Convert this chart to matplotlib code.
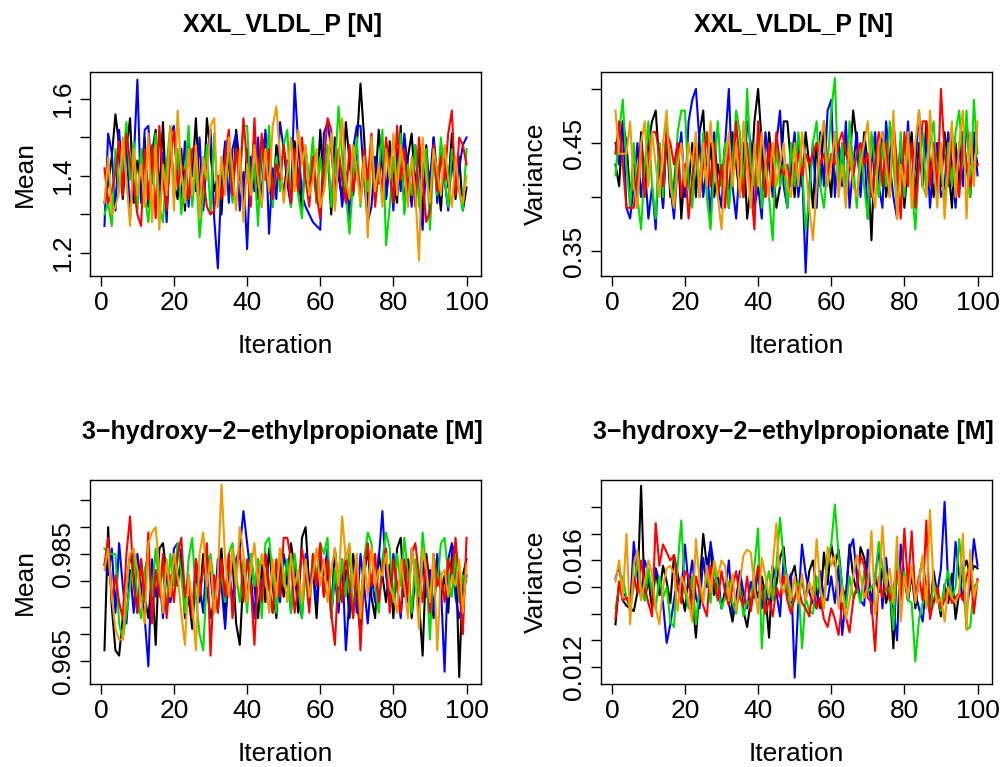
import matplotlib
matplotlib.use("Agg")
import matplotlib.pyplot as plt
import numpy as np

# ---------------- data ----------------
titles = ["XXL_VLDL_P [N]", "XXL_VLDL_P [N]",
          "3\u2212hydroxy\u22122\u2212ethylpropionate [M]",
          "3\u2212hydroxy\u22122\u2212ethylpropionate [M]"]
ylabels = ["Mean", "Variance", "Mean", "Variance"]
xticks = [0, 20, 40, 60, 80, 100]

p1_black = [1.33,1.38,1.45,1.56,1.48,1.34,1.47,1.55,1.33,1.44,
1.38,1.50,1.32,1.46,1.52,1.35,1.54,1.31,1.49,1.38,
1.34,1.47,1.31,1.49,1.40,1.55,1.36,1.32,1.55,1.46,
1.36,1.40,1.30,1.48,1.43,1.34,1.52,1.43,1.32,1.47,
1.40,1.50,1.34,1.45,1.51,1.38,1.32,1.48,1.43,1.35,
1.44,1.33,1.49,1.40,1.31,1.47,1.37,1.45,1.33,1.52,
1.37,1.47,1.30,1.50,1.40,1.34,1.54,1.44,1.35,1.48,
1.64,1.50,1.32,1.46,1.37,1.52,1.42,1.34,1.49,1.39,
1.33,1.53,1.31,1.45,1.51,1.37,1.47,1.29,1.48,1.34,
1.50,1.40,1.31,1.47,1.37,1.51,1.34,1.45,1.31,1.37]
p1_blue = [1.27,1.51,1.46,1.31,1.52,1.38,1.49,1.29,1.44,1.65,
1.33,1.52,1.53,1.38,1.49,1.31,1.46,1.28,1.51,1.53,
1.40,1.34,1.49,1.32,1.43,1.36,1.50,1.31,1.45,1.52,
1.29,1.16,1.39,1.49,1.33,1.47,1.51,1.31,1.41,1.21,
1.45,1.36,1.50,1.32,1.52,1.25,1.42,1.34,1.54,1.47,
1.38,1.32,1.64,1.48,1.35,1.32,1.30,1.28,1.27,1.26,
1.51,1.54,1.47,1.36,1.43,1.32,1.41,1.29,1.47,1.53,
1.53,1.39,1.28,1.32,1.45,1.38,1.49,1.34,1.43,1.31,
1.47,1.36,1.51,1.41,1.32,1.48,1.35,1.26,1.44,1.39,
1.50,1.33,1.47,1.39,1.31,1.45,1.35,1.42,1.48,1.50]
p1_green = [1.30,1.33,1.27,1.47,1.36,1.43,1.54,1.39,1.49,1.31,
1.47,1.35,1.28,1.40,1.51,1.32,1.28,1.43,1.53,1.35,
1.47,1.30,1.40,1.53,1.32,1.43,1.24,1.35,1.48,1.30,
1.51,1.32,1.43,1.37,1.48,1.33,1.47,1.39,1.53,1.53,
1.35,1.43,1.27,1.50,1.39,1.53,1.32,1.45,1.36,1.48,
1.52,1.32,1.43,1.35,1.29,1.47,1.39,1.50,1.33,1.45,
1.36,1.48,1.32,1.41,1.58,1.45,1.35,1.25,1.39,1.50,
1.32,1.43,1.36,1.47,1.33,1.41,1.52,1.22,1.32,1.45,
1.39,1.51,1.30,1.43,1.35,1.48,1.32,1.41,1.47,1.26,
1.45,1.35,1.50,1.39,1.32,1.47,1.41,1.36,1.31,1.47]
p1_red = [1.42,1.33,1.36,1.41,1.49,1.35,1.51,1.44,1.37,1.30,
1.27,1.47,1.34,1.48,1.29,1.53,1.39,1.31,1.45,1.52,
1.37,1.43,1.41,1.34,1.47,1.48,1.35,1.40,1.32,1.30,
1.31,1.40,1.34,1.45,1.52,1.35,1.47,1.39,1.55,1.43,
1.32,1.55,1.37,1.51,1.39,1.47,1.34,1.43,1.39,1.48,
1.41,1.33,1.47,1.36,1.50,1.39,1.32,1.45,1.35,1.29,
1.43,1.55,1.52,1.32,1.47,1.39,1.33,1.48,1.36,1.43,
1.35,1.47,1.39,1.51,1.32,1.43,1.36,1.50,1.41,1.33,
1.53,1.39,1.47,1.35,1.43,1.32,1.50,1.39,1.28,1.31,
1.48,1.36,1.45,1.39,1.51,1.57,1.35,1.50,1.48,1.43]
p1_orange = [1.33,1.45,1.30,1.32,1.36,1.50,1.39,1.27,1.47,1.35,
1.43,1.32,1.51,1.28,1.48,1.26,1.43,1.35,1.53,1.31,
1.57,1.41,1.33,1.47,1.35,1.48,1.29,1.45,1.39,1.53,
1.55,1.32,1.45,1.35,1.50,1.41,1.31,1.47,1.28,1.43,
1.35,1.48,1.39,1.32,1.47,1.36,1.53,1.58,1.45,1.33,
1.41,1.50,1.36,1.52,1.43,1.48,1.35,1.39,1.47,1.32,
1.36,1.43,1.51,1.31,1.45,1.55,1.39,1.34,1.48,1.41,
1.33,1.45,1.24,1.50,1.36,1.43,1.32,1.47,1.39,1.51,
1.35,1.48,1.41,1.32,1.45,1.36,1.18,1.50,1.39,1.33,
1.47,1.41,1.35,1.48,1.39,1.32,1.45,1.36,1.33,1.40]

p2_black = [0.43,0.41,0.47,0.45,0.40,0.43,0.39,0.46,0.41,0.45,
0.47,0.48,0.43,0.39,0.46,0.40,0.41,0.45,0.38,0.43,
0.41,0.45,0.40,0.46,0.48,0.41,0.45,0.40,0.43,0.41,
0.45,0.39,0.46,0.43,0.40,0.45,0.38,0.41,0.47,0.50,
0.45,0.40,0.46,0.43,0.39,0.41,0.47,0.47,0.43,0.40,
0.45,0.41,0.46,0.43,0.39,0.45,0.41,0.47,0.43,0.40,
0.46,0.41,0.45,0.40,0.43,0.48,0.45,0.41,0.46,0.43,
0.36,0.45,0.41,0.46,0.40,0.43,0.47,0.41,0.45,0.39,
0.43,0.46,0.40,0.45,0.41,0.47,0.43,0.40,0.45,0.41,
0.46,0.43,0.39,0.45,0.41,0.46,0.43,0.40,0.45,0.43]
p2_blue = [0.45,0.43,0.47,0.39,0.38,0.41,0.45,0.40,0.43,0.38,
0.41,0.37,0.45,0.39,0.47,0.41,0.38,0.43,0.46,0.40,
0.47,0.49,0.50,0.45,0.40,0.43,0.38,0.46,0.41,0.39,
0.45,0.50,0.41,0.38,0.43,0.40,0.47,0.45,0.39,0.41,
0.38,0.46,0.43,0.40,0.45,0.48,0.41,0.39,0.43,0.46,
0.40,0.43,0.33,0.41,0.45,0.39,0.46,0.41,0.48,0.49,
0.40,0.45,0.41,0.47,0.39,0.43,0.46,0.40,0.45,0.38,
0.43,0.46,0.41,0.39,0.47,0.43,0.40,0.38,0.45,0.41,
0.47,0.40,0.43,0.48,0.41,0.46,0.39,0.43,0.45,0.40,
0.41,0.46,0.43,0.39,0.45,0.41,0.47,0.43,0.46,0.42]
p2_green = [0.42,0.46,0.49,0.43,0.39,0.45,0.40,0.37,0.43,0.47,
0.41,0.38,0.45,0.40,0.47,0.43,0.39,0.46,0.48,0.48,
0.41,0.39,0.45,0.41,0.46,0.40,0.37,0.43,0.47,0.41,
0.45,0.39,0.43,0.48,0.46,0.40,0.50,0.43,0.41,0.46,
0.39,0.43,0.40,0.36,0.45,0.41,0.43,0.39,0.45,0.41,
0.46,0.43,0.37,0.40,0.45,0.47,0.41,0.39,0.43,0.48,
0.51,0.41,0.45,0.40,0.47,0.43,0.39,0.45,0.41,0.38,
0.46,0.43,0.40,0.45,0.41,0.47,0.43,0.39,0.46,0.40,
0.45,0.41,0.37,0.43,0.46,0.40,0.45,0.47,0.41,0.43,
0.39,0.45,0.41,0.46,0.48,0.43,0.48,0.40,0.49,0.44]
p2_red = [0.44,0.47,0.43,0.39,0.39,0.39,0.42,0.45,0.40,0.43,
0.46,0.46,0.44,0.41,0.46,0.45,0.43,0.45,0.40,0.43,
0.38,0.42,0.45,0.40,0.43,0.46,0.41,0.45,0.40,0.43,
0.39,0.45,0.41,0.47,0.43,0.40,0.45,0.41,0.37,0.47,
0.43,0.40,0.45,0.41,0.46,0.43,0.42,0.43,0.41,0.43,
0.44,0.42,0.44,0.43,0.44,0.45,0.43,0.44,0.42,0.44,
0.43,0.45,0.46,0.44,0.43,0.42,0.44,0.45,0.43,0.44,
0.40,0.43,0.46,0.41,0.45,0.40,0.47,0.43,0.38,0.46,
0.41,0.45,0.39,0.43,0.47,0.47,0.41,0.45,0.40,0.50,
0.44,0.41,0.46,0.43,0.40,0.45,0.43,0.41,0.43,0.43]
p2_orange = [0.48,0.44,0.44,0.44,0.47,0.41,0.39,0.45,0.47,0.41,
0.46,0.43,0.40,0.45,0.48,0.41,0.39,0.43,0.45,0.41,
0.45,0.43,0.46,0.40,0.45,0.41,0.47,0.43,0.40,0.37,
0.43,0.46,0.41,0.45,0.40,0.47,0.43,0.39,0.45,0.41,
0.46,0.43,0.40,0.45,0.41,0.43,0.45,0.41,0.40,0.45,
0.41,0.46,0.43,0.39,0.36,0.41,0.45,0.47,0.41,0.43,
0.46,0.40,0.43,0.39,0.45,0.41,0.40,0.43,0.45,0.47,
0.41,0.39,0.45,0.46,0.43,0.40,0.48,0.38,0.43,0.41,
0.46,0.39,0.45,0.48,0.41,0.40,0.48,0.43,0.39,0.45,
0.38,0.43,0.47,0.40,0.45,0.48,0.38,0.46,0.41,0.47]

p3_black = [.967,.990,.975,.967,.966,.973,.979,.985,.981,.974,
.984,.977,.973,.981,.968,.986,.987,.981,.976,.984,
.979,.985,.973,.977,.971,.982,.976,.985,.979,.973,
.976,.981,.986,.974,.979,.984,.972,.968,.981,.976,
.985,.979,.973,.983,.976,.986,.979,.973,.984,.977,
.981,.987,.982,.974,.988,.990,.979,.982,.973,.985,
.977,.982,.974,.986,.979,.976,.982,.973,.985,.977,
.970,.981,.986,.977,.973,.985,.981,.976,.983,.973,
.986,.988,.977,.984,.973,.981,.976,.966,.985,.979,
.973,.984,.977,.981,.974,.985,.987,.962,.981,.984]
p3_blue = [.983,.981,.986,.974,.987,.979,.972,.982,.974,.985,
.979,.973,.964,.984,.977,.981,.973,.982,.976,.986,
.987,.985,.977,.981,.973,.984,.979,.974,.985,.981,
.974,.984,.979,.971,.982,.976,.984,.986,.993,.987,
.981,.973,.984,.977,.985,.979,.974,.982,.976,.985,
.981,.974,.984,.977,.973,.985,.979,.982,.976,.985,
.981,.986,.973,.981,.974,.984,.967,.977,.982,.974,
.985,.979,.972,.981,.976,.984,.993,.981,.976,.985,
.979,.973,.982,.976,.986,.981,.973,.984,.977,.982,
.974,.985,.979,.963,.984,.987,.977,.973,.976,.981]
p3_green = [.986,.985,.985,.985,.972,.969,.974,.979,.985,.977,
.973,.982,.985,.977,.986,.979,.982,.974,.985,.979,
.987,.981,.974,.984,.988,.977,.970,.967,.981,.985,
.979,.974,.982,.976,.985,.987,.981,.976,.984,.974,
.985,.979,.984,.973,.987,.988,.981,.974,.986,.979,
.984,.974,.985,.979,.973,.982,.976,.985,.981,.987,
.985,.988,.973,.982,.976,.984,.977,.986,.973,.981,
.976,.984,.989,.987,.979,.974,.984,.989,.986,.976,
.985,.979,.988,.981,.974,.984,.977,.989,.982,.969,
.985,.979,.987,.988,.981,.977,.985,.976,.981,.980]
p3_red = [.983,.988,.976,.981,.976,.973,.985,.992,.979,.974,
.984,.976,.989,.972,.982,.977,.985,.973,.981,.976,
.985,.988,.977,.981,.973,.984,.977,.982,.987,.966,
.981,.974,.984,.977,.985,.973,.981,.986,.976,.984,
.979,.968,.982,.976,.985,.979,.974,.984,.977,.988,
.988,.984,.974,.979,.986,.981,.974,.985,.979,.987,
.977,.984,.974,.968,.982,.976,.985,.979,.973,.984,
.967,.982,.987,.979,.985,.976,.982,.986,.974,.984,
.979,.974,.984,.977,.985,.987,.981,.976,.984,.974,
.985,.979,.981,.976,.984,.981,.988,.979,.970,.988]
p3_orange = [.982,.986,.977,.971,.969,.969,.979,.985,.986,.982,
.976,.972,.987,.989,.990,.982,.974,.984,.977,.985,
.981,.974,.968,.981,.976,.967,.985,.989,.979,.984,
.974,.981,.998,.984,.977,.986,.979,.990,.985,.976,
.982,.987,.979,.985,.981,.974,.984,.977,.986,.981,
.976,.985,.979,.982,.976,.984,.977,.981,.986,.979,
.984,.976,.982,.986,.979,.992,.984,.987,.979,.985,
.973,.984,.977,.986,.979,.982,.981,.985,.979,.977,
.974,.984,.979,.973,.986,.981,.971,.986,.982,.976,
.985,.967,.981,.982,.977,.981,.979,.984,.974,.983]

p4_black = [.0136,.0152,.0145,.0143,.0142,.0141,.0148,.0188,.0145,.0153,
.0142,.0157,.0147,.0158,.0152,.0144,.0162,.0155,.0148,.0141,
.0154,.0146,.0131,.0151,.0170,.0158,.0165,.0147,.0154,.0142,
.0149,.0144,.0137,.0146,.0153,.0141,.0135,.0145,.0151,.0146,
.0154,.0147,.0131,.0158,.0151,.0161,.0165,.0147,.0154,.0158,
.0147,.0153,.0145,.0156,.0160,.0148,.0142,.0163,.0151,.0166,
.0158,.0164,.0150,.0146,.0166,.0154,.0148,.0165,.0161,.0152,
.0145,.0154,.0148,.0157,.0144,.0150,.0127,.0160,.0146,.0153,
.0145,.0155,.0142,.0153,.0161,.0148,.0140,.0156,.0147,.0139,
.0151,.0144,.0155,.0138,.0148,.0156,.0160,.0154,.0158,.0157]
p4_blue = [.0153,.0158,.0148,.0146,.0142,.0167,.0154,.0146,.0160,.0155,
.0148,.0157,.0152,.0144,.0129,.0136,.0145,.0154,.0148,.0166,
.0150,.0160,.0146,.0142,.0161,.0150,.0167,.0157,.0150,.0142,
.0148,.0160,.0140,.0145,.0156,.0148,.0142,.0152,.0146,.0156,
.0142,.0150,.0144,.0158,.0148,.0139,.0161,.0150,.0155,.0116,
.0144,.0166,.0155,.0148,.0144,.0142,.0156,.0146,.0145,.0154,
.0144,.0158,.0132,.0146,.0164,.0168,.0154,.0145,.0143,.0164,
.0140,.0154,.0165,.0142,.0161,.0146,.0142,.0130,.0166,.0154,
.0145,.0156,.0148,.0142,.0137,.0152,.0146,.0144,.0148,.0157,
.0182,.0150,.0145,.0167,.0154,.0146,.0142,.0150,.0168,.0158]
p4_green = [.0142,.0150,.0154,.0146,.0142,.0150,.0160,.0150,.0145,.0157,
.0148,.0142,.0154,.0146,.0150,.0137,.0135,.0158,.0175,.0148,
.0142,.0154,.0136,.0150,.0146,.0156,.0144,.0158,.0150,.0142,
.0146,.0152,.0144,.0140,.0150,.0139,.0145,.0142,.0158,.0172,
.0127,.0150,.0156,.0145,.0158,.0176,.0160,.0150,.0142,.0146,
.0152,.0127,.0146,.0141,.0140,.0154,.0148,.0142,.0160,.0166,
.0181,.0162,.0150,.0142,.0154,.0146,.0150,.0144,.0156,.0148,
.0150,.0152,.0167,.0158,.0148,.0150,.0134,.0162,.0148,.0156,
.0145,.0144,.0122,.0138,.0144,.0150,.0140,.0152,.0146,.0141,
.0150,.0156,.0146,.0150,.0168,.0154,.0134,.0135,.0150,.0152]
p4_red = [.0138,.0152,.0145,.0146,.0143,.0154,.0148,.0160,.0150,.0144,
.0139,.0174,.0158,.0166,.0163,.0160,.0162,.0150,.0144,.0156,
.0154,.0141,.0154,.0148,.0143,.0139,.0158,.0152,.0145,.0156,
.0148,.0143,.0150,.0156,.0146,.0143,.0154,.0141,.0150,.0158,
.0150,.0140,.0145,.0139,.0150,.0146,.0154,.0145,.0140,.0146,
.0150,.0144,.0142,.0139,.0150,.0142,.0146,.0138,.0135,.0142,
.0138,.0132,.0144,.0139,.0133,.0145,.0150,.0162,.0158,.0146,
.0144,.0126,.0154,.0146,.0152,.0145,.0150,.0156,.0145,.0172,
.0150,.0171,.0146,.0154,.0145,.0175,.0138,.0145,.0150,.0142,
.0145,.0150,.0144,.0146,.0148,.0145,.0154,.0158,.0140,.0153]
p4_orange = [.0152,.0160,.0146,.0170,.0136,.0158,.0164,.0145,.0152,.0160,
.0155,.0142,.0136,.0150,.0157,.0158,.0155,.0141,.0154,.0150,
.0145,.0137,.0168,.0152,.0144,.0158,.0148,.0160,.0154,.0160,
.0158,.0145,.0155,.0141,.0152,.0162,.0164,.0163,.0150,.0140,
.0161,.0154,.0146,.0158,.0174,.0152,.0148,.0155,.0145,.0154,
.0144,.0155,.0145,.0152,.0146,.0168,.0150,.0142,.0165,.0158,
.0162,.0142,.0150,.0138,.0145,.0154,.0162,.0154,.0146,.0150,
.0171,.0140,.0150,.0173,.0150,.0157,.0144,.0169,.0137,.0154,
.0146,.0158,.0144,.0152,.0162,.0142,.0179,.0150,.0144,.0146,
.0137,.0150,.0146,.0144,.0148,.0170,.0134,.0164,.0146,.0152]

panels = [
    [p1_black, p1_blue, p1_green, p1_red, p1_orange],
    [p2_black, p2_blue, p2_green, p2_red, p2_orange],
    [p3_black, p3_blue, p3_green, p3_red, p3_orange],
    [p4_black, p4_blue, p4_green, p4_red, p4_orange],
]
yticks = [[1.2, 1.3, 1.4, 1.5, 1.6],
          [0.35, 0.40, 0.45, 0.50],
          [0.965, 0.970, 0.975, 0.980, 0.985, 0.990, 0.995],
          [0.012, 0.013, 0.014, 0.015, 0.016, 0.017, 0.018]]
ytick_labels = [["1.2", "", "1.4", "", "1.6"],
                ["0.35", "", "0.45", ""],
                ["0.965", "", "", "", "0.985", "", ""],
                ["0.012", "", "", "", "0.016", "", ""]]
ylims = [(1.140, 1.670), (0.3269, 0.5157), (0.9607, 0.9988), (0.01136, 0.01902)]

colors = ["black", "#0000FF", "#00DD00", "#FF0000", "#EE9A00"]

# ---------------- layout ----------------
W, H = 1007, 767
plt.rcParams['font.family'] = ['Liberation Sans', 'DejaVu Sans']
fig = plt.figure(figsize=(W / 100, H / 100), dpi=100)

boxes = [(90, 72, 481, 276), (601, 72, 992, 276),
         (90, 480, 481, 684), (601, 480, 992, 684)]
title_y = [25, 25, 432, 432]

for k in range(4):
    x0, y0, x1, y1 = boxes[k]
    ax = fig.add_axes([x0 / W, 1 - y1 / H, (x1 - x0) / W, (y1 - y0) / H])
    for series, c in zip(panels[k], colors):
        ax.plot(np.arange(1, len(series) + 1), series, color=c, lw=1.5)
    ax.set_xlim(1 - 3.96, 100 + 3.96)
    ax.set_ylim(*ylims[k])
    ax.set_xticks(xticks)
    ax.set_xticklabels([str(t) for t in xticks], fontsize=19)
    ax.set_yticks(yticks[k])
    ax.set_yticklabels(ytick_labels[k], fontsize=19, rotation=90, va='center')
    ax.tick_params(direction='out', length=7, width=1, pad=4, color='black')
    for s in ax.spines.values():
        s.set_linewidth(1)
    cx = (x0 + x1) / 2 / W
    fig.text(cx - 3 / W, 1 - title_y[k] / H, titles[k], ha='center', va='center',
             fontsize=18, fontweight='bold')
    fig.text(cx, 1 - (y1 + 70) / H, "Iteration", ha='center', va='center', fontsize=19)
    fig.text((x0 - 65) / W, 1 - (y0 + y1) / 2 / H, ylabels[k], ha='center', va='center',
             rotation=90, fontsize=19)

fig.savefig("out.png", dpi=100)
